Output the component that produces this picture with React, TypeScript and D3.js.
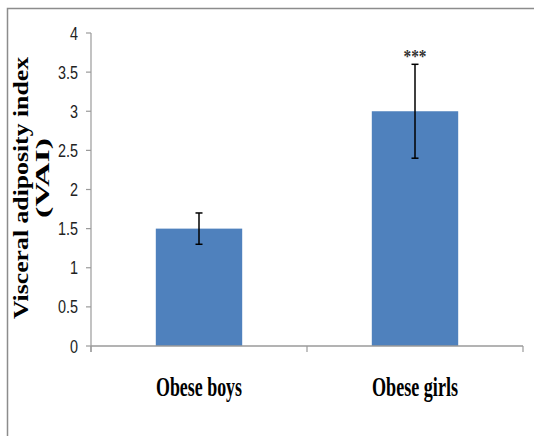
import React from "react";
import * as d3 from "d3";

const categories = ["Obese boys", "Obese girls"];
const means = [1.5, 3.0];
const errors = [0.2, 0.6];
const significance = ["", "***"];
const yTicks = [0, 0.5, 1, 1.5, 2, 2.5, 3, 3.5, 4];

const W = 534;
const H = 436;
const plot = { left: 91, right: 523, top: 33, bottom: 346 };
const barColor = "#4F81BD";
const axisColor = "#9a9a9a";
const serif = "'Liberation Serif', 'Times New Roman', serif";
const sans = "'Liberation Sans', Arial, sans-serif";

export default function App() {
  const y = d3.scaleLinear().domain([0, 4]).range([plot.bottom, plot.top]);
  const x = d3
    .scaleBand<string>()
    .domain(categories)
    .range([plot.left, plot.right])
    .paddingInner(0.6)
    .paddingOuter(0.3);
  const step = x.step();
  const catTicks = d3.range(categories.length + 1).map((i) => plot.left + i * step);

  return (
    <svg
      width={W}
      height={H}
      style={{ position: "absolute", left: 0, top: 0, display: "block", background: "#fff" }}
    >
      {/* chart area frame */}
      <rect x={7.5} y={8.5} width={W + 20} height={H + 20} fill="none" stroke="#8c8c8c" strokeWidth={1.5} />

      {/* bars */}
      {categories.map((c, i) => (
        <rect
          key={c}
          x={x(c)}
          y={y(means[i])}
          width={x.bandwidth()}
          height={y(0) - y(means[i])}
          fill={barColor}
        />
      ))}

      {/* y axis */}
      <line x1={plot.left} x2={plot.left} y1={plot.top} y2={plot.bottom + 6} stroke={axisColor} strokeWidth={1.2} />
      {yTicks.map((t) => (
        <g key={t}>
          <line x1={plot.left - 5} x2={plot.left} y1={y(t)} y2={y(t)} stroke={axisColor} strokeWidth={1.2} />
          <text
            transform={`translate(78,${y(t)}) scale(0.9,1.1)`}
            textAnchor="end"
            dominantBaseline="central"
            fontFamily={sans}
            fontSize={16}
            fill="#222"
          >
            {t}
          </text>
        </g>
      ))}

      {/* x axis */}
      <line x1={plot.left} x2={plot.right} y1={plot.bottom} y2={plot.bottom} stroke={axisColor} strokeWidth={1.5} />
      {catTicks.map((cx, i) => (
        <line key={i} x1={cx} x2={cx} y1={plot.bottom} y2={plot.bottom + 6} stroke={axisColor} strokeWidth={1.2} />
      ))}
      {categories.map((c) => (
        <text
          key={c}
          x={(x(c) as number) + x.bandwidth() / 2}
          y={396}
          textAnchor="middle"
          fontFamily={serif}
          fontWeight="bold"
          fontSize={27}
          textLength={86}
          lengthAdjust="spacingAndGlyphs"
          fill="#000"
        >
          {c}
        </text>
      ))}

      {/* error bars */}
      {categories.map((c, i) => {
        const cx = (x(c) as number) + x.bandwidth() / 2;
        const hi = y(means[i] + errors[i]);
        const lo = y(means[i] - errors[i]);
        return (
          <g key={c} stroke="#000" strokeWidth={1.5}>
            <line x1={cx} x2={cx} y1={hi} y2={lo} />
            <line x1={cx - 3.5} x2={cx + 3.5} y1={hi} y2={hi} />
            <line x1={cx - 3.5} x2={cx + 3.5} y1={lo} y2={lo} />
          </g>
        );
      })}

      {/* significance markers */}
      {categories.map((c, i) =>
        significance[i] ? (
          <text
            key={c}
            x={(x(c) as number) + x.bandwidth() / 2}
            y={y(means[i] + errors[i]) - 1}
            textAnchor="middle"
            fontFamily={serif}
            fontWeight="bold"
            fontSize={19}
            textLength={23}
            lengthAdjust="spacingAndGlyphs"
            fill="#333"
          >
            {significance[i]}
          </text>
        ) : null
      )}

      {/* y axis title */}
      <text
        transform="translate(28,188) rotate(-90)"
        textAnchor="middle"
        fontFamily={serif}
        fontWeight="bold"
        fontSize={21}
        textLength={262}
        lengthAdjust="spacingAndGlyphs"
        fill="#000"
      >
        Visceral adiposity index
      </text>
      <text
        transform="translate(49,178) rotate(-90)"
        textAnchor="middle"
        fontFamily={serif}
        fontWeight="bold"
        fontSize={19}
        textLength={80}
        lengthAdjust="spacingAndGlyphs"
        fill="#000"
      >
        (VAI)
      </text>
    </svg>
  );
}
